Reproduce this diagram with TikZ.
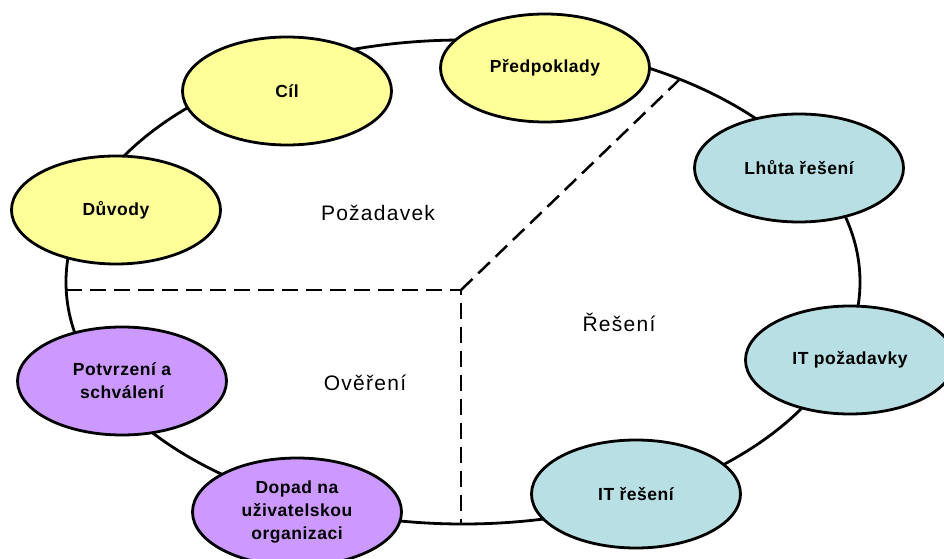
\documentclass[tikz,border=0pt]{standalone}
\usepackage{fontspec}
\setmainfont{Liberation Sans}
\newfontfamily\topicfont[LetterSpace=3]{Liberation Sans}
\newfontfamily\areafont[LetterSpace=6]{Liberation Sans}
\usetikzlibrary{shapes.geometric}
\definecolor{reqyellow}{RGB}{255,255,153}
\definecolor{solcyan}{RGB}{184,223,227}
\definecolor{verpurple}{RGB}{204,153,255}
\tikzset{
  topic/.style={ellipse, draw=black, line width=2.8bp, minimum width=209bp,
    minimum height=108bp, inner sep=0pt, align=center,
    font=\topicfont\fontsize{17.5bp}{23bp}\selectfont\bfseries},
  reqnode/.style={topic, fill=reqyellow},
  solnode/.style={topic, fill=solcyan},
  vernode/.style={topic, fill=verpurple},
  ring/.style={ellipse, draw=black, line width=2.8bp, minimum width=794bp,
    minimum height=484bp, inner sep=0pt},
  divider/.style={draw=black, line width=2.5bp, dash pattern=on 16bp off 8bp},
  area/.style={font=\areafont\fontsize{21bp}{24bp}\selectfont}
}
\begin{document}
\begin{tikzpicture}[x=1bp,y=-1bp]
  \useasboundingbox[fill=white] (0,0) rectangle (944,559);
  \begin{scope}
    \clip (0,0) rectangle (944,559);
    % outer ring joining all topics
    \node[ring] (ring) at (463,282) {};

    % section dividers
    \coordinate (hub) at (461,290);
    \coordinate (leftend) at (66,290);
    \coordinate (bottomend) at (461,524);
    \coordinate (diagend) at (679,80);
    \path[divider] (leftend) -- (hub) -- (bottomend);
    \path[divider] (hub) -- (diagend);

    % section titles
    \node[area] (req) at (378,213) {Požadavek};
    \node[area] (sol) at (619,322) {Řešení};
    \node[area] (ver) at (365,383) {Ověření};

    % topics
    \node[reqnode] (duvody) at (116,210) {Důvody};
    \node[reqnode] (cil) at (287,91) {Cíl};
    \node[reqnode] (predpoklady) at (545,68) {Předpoklady};
    \node[solnode] (lhuta) at (799,168) {Lhůta řešení};
    \node[solnode] (itpoz) at (850,360) {IT požadavky};
    \node[solnode] (itres) at (636,494) {IT řešení};
    \node[vernode] (dopad) at (297,512) {Dopad na\\uživatelskou\\organizaci};
    \node[vernode] (potvrzeni) at (122,381) {Potvrzení a\\schválení};
  \end{scope}
\end{tikzpicture}
\end{document}
